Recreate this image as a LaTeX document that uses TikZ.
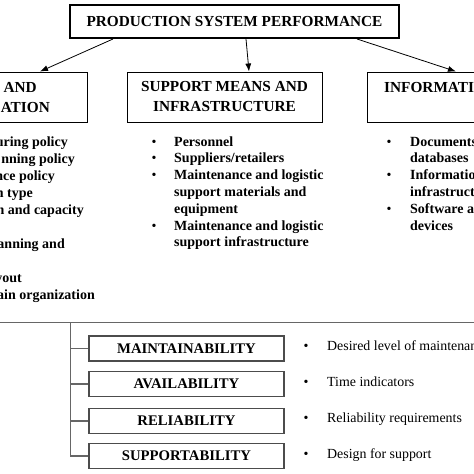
\documentclass[tikz,border=0pt]{standalone}
\usepackage{fontspec}
\setmainfont{Liberation Serif}
\usetikzlibrary{positioning,arrows.meta}
\begin{document}
\begin{tikzpicture}[x=1pt, y=-1pt, >={Latex[length=8pt,width=6pt]},
  head box/.style={draw, rectangle, minimum width=195pt, minimum height=50pt, line width=1pt},
  head/.style={font=\fontsize{15.3}{20}\selectfont\bfseries, inner sep=0pt},
  item/.style={font=\fontsize{14}{17}\selectfont\bfseries, inner sep=0pt, anchor=base west},
  dot/.style={font=\fontsize{14}{17}\selectfont, inner sep=0pt, anchor=base},
  tree/.style={draw=black!60, line width=1.3pt},
  prop box/.style={draw=black!70, line width=1.2pt, minimum width=195pt, minimum height=25pt, inner sep=0pt, font=\fontsize{14.7}{17}\selectfont\bfseries},
  note/.style={font=\fontsize{13.9}{17}\selectfont, inner sep=0pt, anchor=base west}]
\useasboundingbox (0,0) rectangle (474,474);
\clip (0,0) rectangle (474,474);

% top level
\node[draw, line width=2pt, minimum width=329pt, minimum height=33pt, inner sep=0pt,
  font=\fontsize{15.3}{18}\selectfont\bfseries] (perf) at (234.5,21.5) {PRODUCTION SYSTEM PERFORMANCE};

% second level
\node[head box] (org) at (-10.5,97) {};
\node[head, anchor=base east] (org1) at (37,92) {AND};
\node[head, anchor=base east] (org2) at (50,112) {ATION};
\node[head box, head, align=center] (supp) at (224.5,97) {SUPPORT MEANS AND\\INFRASTRUCTURE};
\node[head box] (info) at (464.5,97) {};
\node[head, anchor=base west] (info1) at (384,92) {INFORMATION};

\draw[->, line width=0.8pt] ([xshift=-121.5pt]perf.south) -- ([xshift=50.5pt]org.north);
\draw[->, line width=0.8pt] ([xshift=11.5pt]perf.south) -- ([xshift=24.5pt]supp.north);
\draw[->, line width=0.8pt] ([xshift=122.5pt]perf.south) -- ([xshift=-8.5pt]info.north);

% lists
\node[item, anchor=base east] (o1) at (68,146) {uring policy};
\node[item, anchor=base east] (o2) at (75,163) {nning policy};
\node[item, anchor=base east] (o3) at (55,180) {nce policy};
\node[item, anchor=base east] (o4) at (33,197) {n type};
\node[item, anchor=base east] (o5) at (84,214) {n and capacity};
\node[item, anchor=base east] (o6) at (65,248) {anning and};
\node[item, anchor=base east] (o7) at (22,282) {yout};
\node[item, anchor=base east] (o8) at (95,299) {ain organization};

\foreach \t [count=\i] in {Personnel, Suppliers/retailers, Maintenance and logistic,
  support materials and, equipment, Maintenance and logistic, support infrastructure}
  \node[item] (s\i) at (174,129.2+16.8*\i) {\t};
\foreach \i in {1,2,3,6}
  \node[dot] (sb\i) at ([xshift=-20pt]s\i.base west) {\textbullet};

\foreach \t [count=\i] in {Documents, databases, Information, infrastructure, Software and, devices}
  \node[item] (i\i) at (410,129.2+16.8*\i) {\t};
\foreach \i in {1,3,5}
  \node[dot] (ib\i) at ([xshift=-21pt]i\i.base west) {\textbullet};

% properties
\coordinate (rail w) at (0,322.5);
\coordinate (rail e) at (474,322.5);
\coordinate (trunk) at (70.5,322.5);
\draw[tree] (rail w) -- (rail e);

\node[prop box] (p1) at (186.5,348.5) {MAINTAINABILITY};
\node[prop box] (p2) at (186.5,384) {AVAILABILITY};
\node[prop box] (p3) at (186.5,421) {RELIABILITY};
\node[prop box] (p4) at (186.5,456) {SUPPORTABILITY};
\foreach \i in {1,...,4}
  \draw[tree] (trunk) |- (p\i.west);

\node[note] (n1) at (327,350) {Desired level of maintenance};
\node[note] (n2) at (327,386) {Time indicators};
\node[note] (n3) at (327,422) {Reliability requirements};
\node[note] (n4) at (327,458) {Design for support};
\foreach \i in {1,...,4}
  \node[dot] (nb\i) at ([xshift=-21pt]n\i.base west) {\textbullet};
\end{tikzpicture}
\end{document}
